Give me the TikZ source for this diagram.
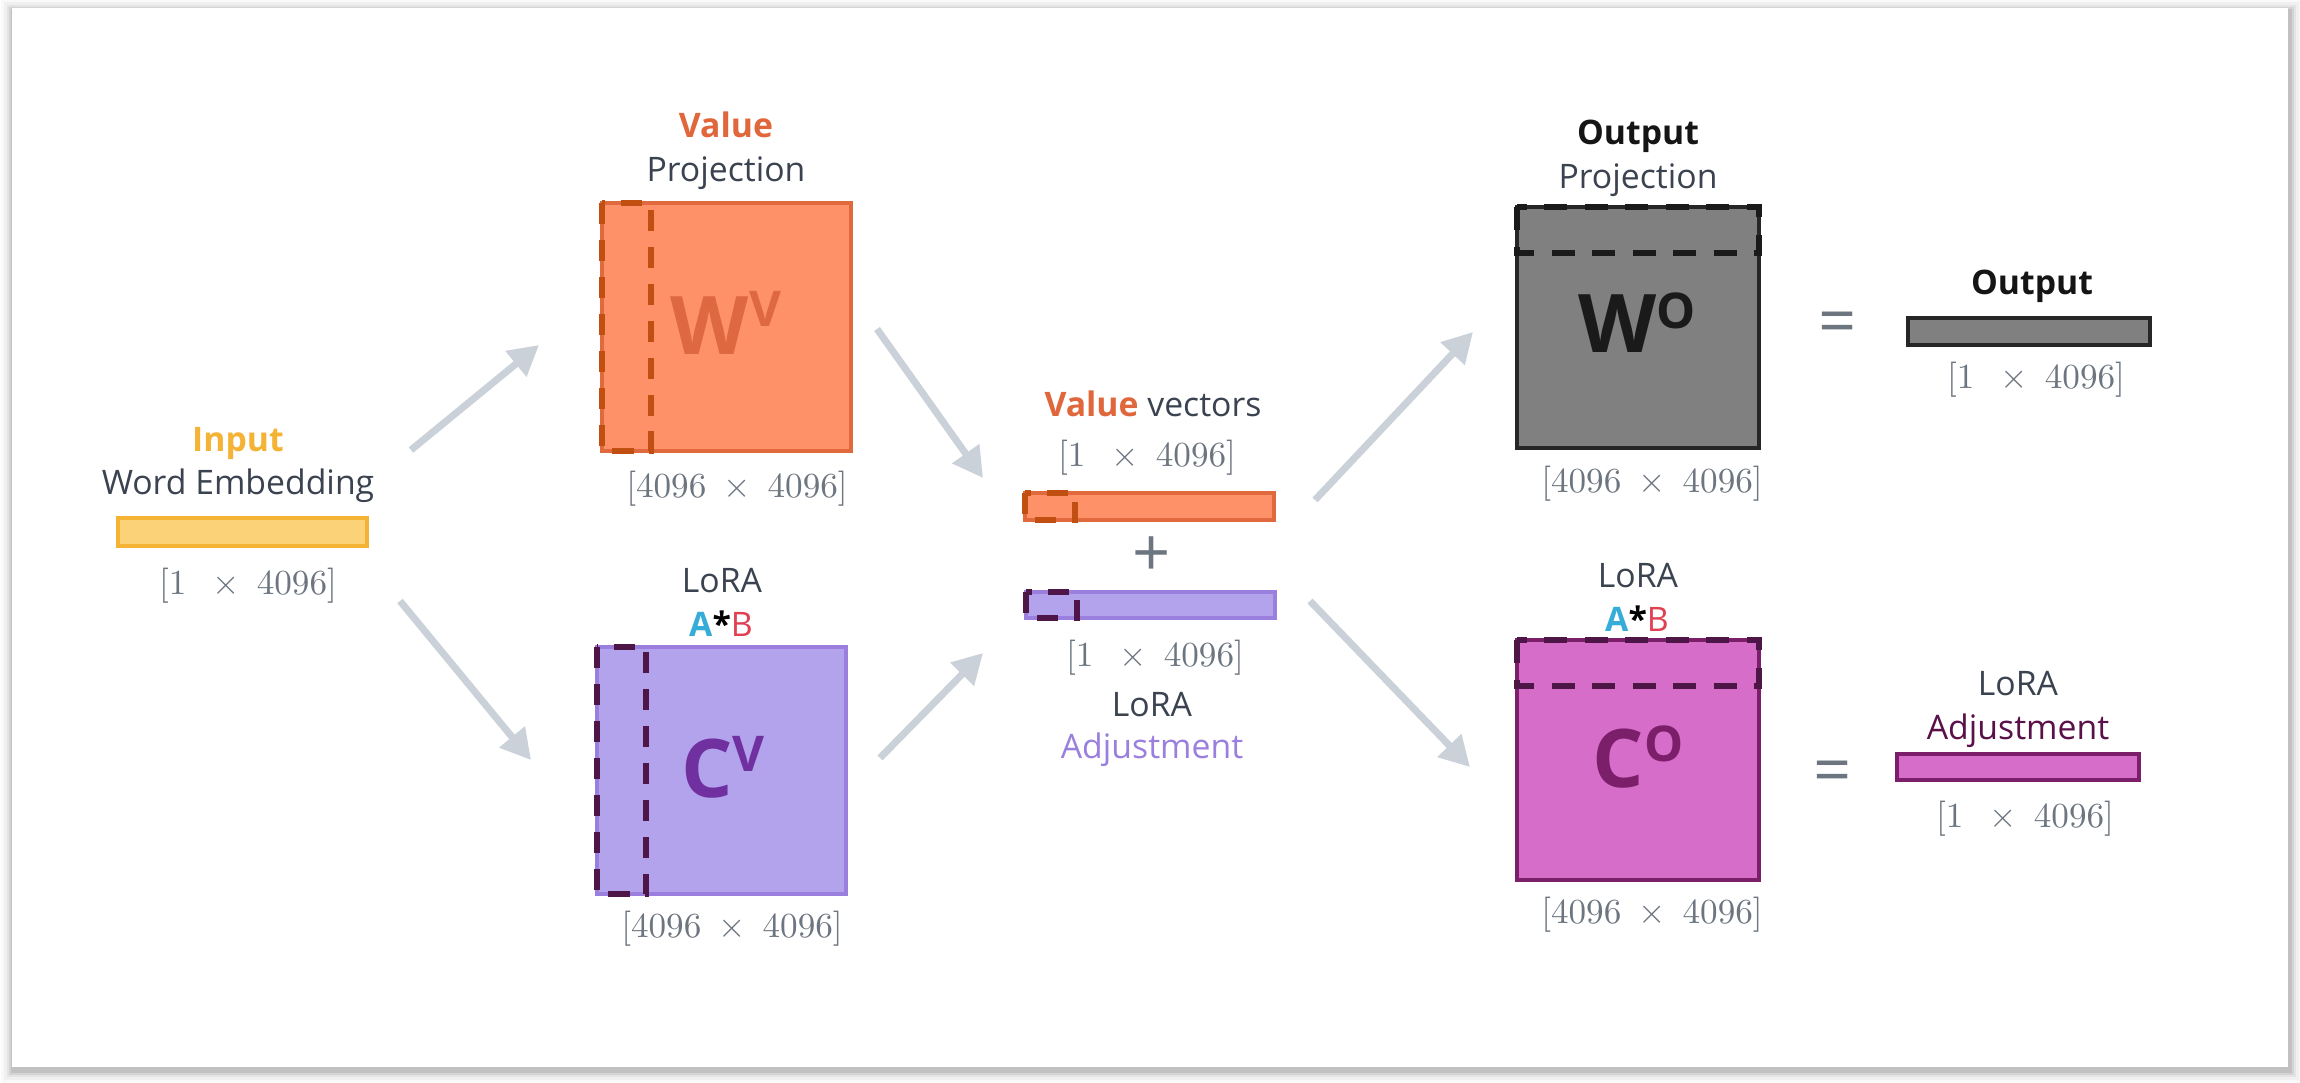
\documentclass[tikz,border=0pt]{standalone}
\usepackage{fontspec}
\setmainfont{Open Sans}
\usetikzlibrary{arrows.meta}
\definecolor{txtdark}{HTML}{3B4350}
\definecolor{dimc}{HTML}{6C7580}
\definecolor{arrowc}{HTML}{CBD1D8}
\definecolor{inputc}{HTML}{F5B335}
\definecolor{inputfill}{HTML}{FBD277}
\definecolor{valc}{HTML}{E0663C}
\definecolor{wvfill}{HTML}{FF9169}
\definecolor{wvborder}{HTML}{E06A3E}
\definecolor{wvdash}{HTML}{C24F12}
\definecolor{wvtext}{HTML}{DE6941}
\definecolor{cvfill}{HTML}{B2A3EC}
\definecolor{cvborder}{HTML}{9B7FDF}
\definecolor{cvdash}{HTML}{4E1646}
\definecolor{cvtext}{HTML}{7030A0}
\definecolor{adjc}{HTML}{9B7FDF}
\definecolor{acol}{HTML}{36ACD9}
\definecolor{bcol}{HTML}{E04050}
\definecolor{wofill}{HTML}{808080}
\definecolor{woborder}{HTML}{262626}
\definecolor{wotext}{HTML}{1A1A1A}
\definecolor{cofill}{HTML}{D66DC8}
\definecolor{coborder}{HTML}{7C1F6B}
\definecolor{adj2c}{HTML}{5A1048}
\definecolor{outc}{HTML}{151515}
\begin{document}
\begin{tikzpicture}[x=0.01cm,y=-0.01cm,
  lbl/.style={font=\fontsize{9.6}{11}\selectfont, text=txtdark, inner sep=0pt, anchor=base},
  blbl/.style={lbl, font=\fontsize{9.6}{11}\selectfont\bfseries},
  dimlbl/.style={font=\fontsize{10}{12}\selectfont, text=dimc, inner sep=0pt, anchor=base},
  big/.style={font=\fontsize{23}{24}\selectfont\bfseries, inner sep=0pt, anchor=base},
  sym/.style={font=\fontsize{19}{20}\selectfont, text=dimc, inner sep=0pt, anchor=center},
  mat/.style={rectangle, inner sep=0pt, outer sep=0pt, anchor=north west},
  dsh/.style={line width=1.6pt, dash pattern=on 6pt off 4.5pt},
  dshh/.style={line width=1.6pt, dash pattern=on 6.5pt off 5pt},
  arr/.style={line width=2pt, draw=arrowc, -{Triangle[length=8.5pt,width=9pt]}}
]
\useasboundingbox (0,0) rectangle (2300,1083);
% card with shadow
\foreach \i/\o in {12/0.025,9/0.035,6/0.05,4/0.07,2/0.09}{
  \fill[black,opacity=\o] (12-\i+1,8-\i+3) rectangle (2288+\i+2,1067+\i+4);
}
\fill[white] (12,8) rectangle (2288,1067);

% ---- input ----
\node[blbl, text=inputc] (inT) at (238,452) {Input};
\node[lbl] (inT2) at (238,495) {Word Embedding};
\node[mat, fill=inputfill, draw=inputc, line width=1.2pt, minimum width=2.49cm, minimum height=0.28cm] (inbar) at (118,518) {};
\node[dimlbl] (inD) at (248,595) {$[1\ \ \times\ 4096]$};

% ---- value projection ----
\node[blbl, text=valc] (vT) at (726,138) {Value};
\node[lbl] (vT2) at (726,182) {Projection};
\node[mat, fill=wvfill, draw=wvborder, line width=1.1pt, minimum width=2.49cm, minimum height=2.48cm] (WV) at (602,203) {};
\draw[dsh, wvdash] (602,203) rectangle (651,451);
\node[big, text=wvtext] (WVl) at (726,355) {W\raisebox{8pt}{\fontsize{14}{14}\selectfont V}};
\node[dimlbl] (WVd) at (737,498) {$[4096\ \times\ 4096]$};

% ---- LoRA CV ----
\node[lbl] (cT) at (722,593) {LoRA};
\node[lbl] (cT2) at (721,637) {\textcolor{acol}{\bfseries A}\textcolor{black}{\bfseries *}\textcolor{bcol}{B}};
\node[mat, fill=cvfill, draw=cvborder, line width=1.1pt, minimum width=2.49cm, minimum height=2.47cm] (CV) at (597,647) {};
\draw[dsh, cvdash] (597,647) rectangle (646,894);
\node[big, text=cvtext] (CVl) at (723,798) {C\raisebox{7.4pt}{\fontsize{14}{14}\selectfont V}};
\node[dimlbl] (CVd) at (732,938) {$[4096\ \times\ 4096]$};

% ---- middle vectors ----
\node[lbl] (mT) at (1153,417) {\textcolor{valc}{\bfseries Value} vectors};
\node[dimlbl] (mD1) at (1147,467) {$[1\ \ \times\ 4096]$};
\node[mat, fill=wvfill, draw=wvborder, line width=1.1pt, minimum width=2.49cm, minimum height=0.27cm] (vbar) at (1025,493) {};
\draw[dsh, wvdash] (1025,493) rectangle (1075,520);
\node[sym] (plus) at (1152,557) {+};
\node[mat, fill=cvfill, draw=cvborder, line width=1.1pt, minimum width=2.49cm, minimum height=0.26cm] (lbar) at (1026,592) {};
\draw[dsh, cvdash] (1026,592) rectangle (1077,618);
\node[dimlbl] (mD2) at (1155,667) {$[1\ \ \times\ 4096]$};
\node[lbl] (mT2) at (1152,717) {LoRA};
\node[lbl, text=adjc] (mT3) at (1152,759) {Adjustment};

% ---- output projection ----
\node[blbl, text=outc] (oT) at (1638,145) {Output};
\node[lbl] (oT2) at (1638,189) {Projection};
\node[mat, fill=wofill, draw=woborder, line width=1.3pt, minimum width=2.42cm, minimum height=2.41cm] (WO) at (1517,207) {};
\draw[dshh, wotext] (1517,207) rectangle (1759,253);
\node[big, text=wotext] (WOl) at (1637,353) {W\raisebox{7.1pt}{\fontsize{14}{14}\selectfont O}};
\node[dimlbl] (WOd) at (1652,493) {$[4096\ \times\ 4096]$};
\node[sym] (eq1) at (1838,328) {=};
\node[blbl, text=outc] (outT) at (2032,295) {Output};
\node[mat, fill=wofill, draw=woborder, line width=1.3pt, minimum width=2.42cm, minimum height=0.27cm] (obar) at (1908,318) {};
\node[dimlbl] (outD) at (2036,389) {$[1\ \ \times\ 4096]$};

% ---- LoRA CO ----
\node[lbl] (coT) at (1638,588) {LoRA};
\node[lbl] (coT2) at (1637,632) {\textcolor{acol}{\bfseries A}\textcolor{black}{\bfseries *}\textcolor{bcol}{B}};
\node[mat, fill=cofill, draw=coborder, line width=1.3pt, minimum width=2.42cm, minimum height=2.40cm] (CO) at (1517,640) {};
\draw[dshh, cvdash] (1517,640) rectangle (1759,686);
\node[big, text=coborder] (COl) at (1638,788) {C\raisebox{7.4pt}{\fontsize{14}{14}\selectfont O}};
\node[dimlbl] (COd) at (1652,923) {$[4096\ \times\ 4096]$};
\node[sym] (eq2) at (1833,777) {=};
\node[lbl] (adT) at (2018,696) {LoRA};
\node[lbl, text=adj2c] (adT2) at (2018,740) {Adjustment};
\node[mat, fill=cofill, draw=coborder, line width=1.3pt, minimum width=2.42cm, minimum height=0.26cm] (abar) at (1897,754) {};
\node[dimlbl] (adD) at (2025,828) {$[1\ \ \times\ 4096]$};

% ---- arrows ----
\coordinate (a1s) at (411,450); \coordinate (a1e) at (539,345);
\coordinate (a2s) at (400,601); \coordinate (a2e) at (531,760);
\coordinate (a3s) at (877,329); \coordinate (a3e) at (983,478);
\coordinate (a4s) at (880,758); \coordinate (a4e) at (983,653);
\coordinate (a5s) at (1315,500); \coordinate (a5e) at (1473,332);
\coordinate (a6s) at (1310,601); \coordinate (a6e) at (1470,767);
\draw[arr] (a1s) -- (a1e);
\draw[arr] (a2s) -- (a2e);
\draw[arr] (a3s) -- (a3e);
\draw[arr] (a4s) -- (a4e);
\draw[arr] (a5s) -- (a5e);
\draw[arr] (a6s) -- (a6e);
\end{tikzpicture}
\end{document}
